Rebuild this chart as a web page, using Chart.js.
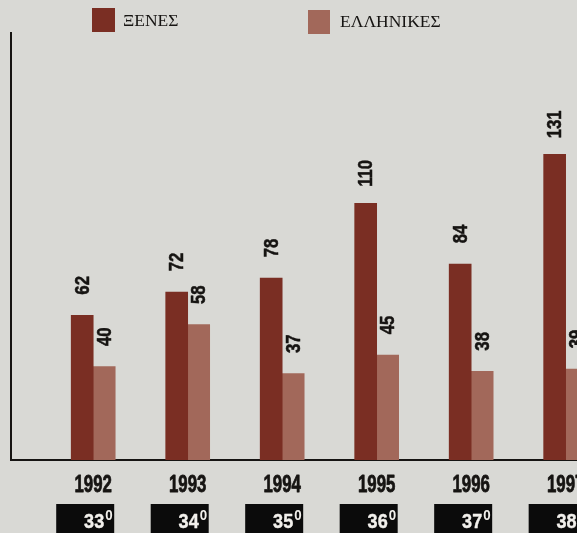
<!DOCTYPE html>
<html>
<head>
<meta charset="utf-8">
<script src="https://cdn.jsdelivr.net/npm/chart.js@4/dist/chart.umd.min.js"></script>
<style>
  html, body { margin: 0; padding: 0; background: #d9d9d5; }
  #wrap { width: 577px; height: 533px; position: relative; overflow: hidden; }
  canvas { display: block; }
</style>
</head>
<body>
<div id="wrap"><canvas id="chart" width="577" height="533"></canvas></div>
<script>
// Exhibition entries per year: foreign vs Greek
const years = [1992, 1993, 1994, 1995, 1996, 1997];
const xenes = [62, 72, 78, 110, 84, 131];
const ellinikes = [40, 58, 37, 45, 38, 39];
const editions = ['33', '34', '35', '36', '37', '38'];
const editionSup = '0';
const seriesNames = ['ΞΕΝΕΣ', 'ΕΛΛΗΝΙΚΕΣ'];

const SANS = '"Liberation Sans", Arial, sans-serif';
const SERIF = '"Liberation Serif", "DejaVu Serif", serif';
const INK = '#161412';
const PAPER = '#d9d9d5';
const DARK = '#7a2e23';
const LIGHT = '#a2685a';

// Draw text squeezed horizontally to imitate a condensed heavy face
function condensedText(ctx, text, x, y, squeeze, rotate, heavy) {
  ctx.save();
  ctx.translate(x, y);
  if (rotate) ctx.rotate(rotate);
  ctx.scale(squeeze, 1);
  ctx.fillText(text, 0, 0);
  if (heavy) {
    ctx.lineWidth = heavy;
    ctx.strokeStyle = ctx.fillStyle;
    ctx.lineJoin = 'round';
    ctx.strokeText(text, 0, 0);
  }
  ctx.restore();
}

// Paper background
const paperPlugin = {
  id: 'paper',
  beforeDraw(chart) {
    const ctx = chart.ctx;
    ctx.save();
    ctx.fillStyle = PAPER;
    ctx.fillRect(0, 0, chart.width, chart.height);
    ctx.restore();
  }
};

// Two-item legend across the top
const topLegend = {
  id: 'topLegend',
  afterDraw(chart) {
    const ctx = chart.ctx;
    const slots = [
      { box: [92, 8, 23, 24], textX: 123, textY: 21 },
      { box: [308, 10, 22, 24], textX: 340, textY: 22 }
    ];
    ctx.save();
    chart.data.datasets.forEach((ds, i) => {
      const s = slots[i];
      ctx.fillStyle = ds.backgroundColor;
      ctx.fillRect(s.box[0], s.box[1], s.box[2], s.box[3]);
      ctx.fillStyle = INK;
      ctx.font = '17.5px ' + SERIF;
      ctx.textAlign = 'left';
      ctx.textBaseline = 'middle';
      ctx.fillText(ds.label, s.textX, s.textY);
    });
    ctx.restore();
  }
};

// Vertical value labels above each bar
const valueLabels = {
  id: 'valueLabels',
  afterDatasetsDraw(chart) {
    const ctx = chart.ctx;
    ctx.save();
    ctx.fillStyle = INK;
    ctx.font = 'bold 19.5px ' + SANS;
    ctx.textAlign = 'center';
    ctx.textBaseline = 'middle';
    chart.data.datasets.forEach((ds, di) => {
      const meta = chart.getDatasetMeta(di);
      meta.data.forEach((bar, i) => {
        const v = ds.data[i].y;
        condensedText(ctx, String(v), bar.x + 1, bar.y - 30, 0.86, -Math.PI / 2, 0.5);
      });
    });
    ctx.restore();
  }
};

// Year labels under the axis
const yearLabels = {
  id: 'yearLabels',
  afterDraw(chart) {
    const ctx = chart.ctx;
    const xs = chart.scales.x;
    ctx.save();
    ctx.fillStyle = INK;
    ctx.font = 'bold 23px ' + SANS;
    ctx.textAlign = 'center';
    ctx.textBaseline = 'alphabetic';
    xs.ticks.forEach((t) => {
      if (!years.includes(t.value)) return;
      condensedText(ctx, String(t.value), xs.getPixelForValue(t.value), 492, 0.73, 0, 0.8);
    });
    ctx.restore();
  }
};

// Black edition tags under the year labels
const editionTags = {
  id: 'editionTags',
  afterDraw(chart) {
    const ctx = chart.ctx;
    const xs = chart.scales.x;
    ctx.save();
    years.forEach((yr, i) => {
      const px = xs.getPixelForValue(yr);
      ctx.fillStyle = '#0b0b0b';
      ctx.fillRect(px - 37, 504, 58, 40);
      ctx.fillStyle = '#f2f0ec';
      ctx.textBaseline = 'alphabetic';
      ctx.textAlign = 'right';
      ctx.font = 'bold 21px ' + SANS;
      condensedText(ctx, editions[i], px + 11, 528, 0.86, 0, 0.4);
      ctx.textAlign = 'left';
      ctx.font = 'bold 14px ' + SANS;
      condensedText(ctx, editionSup, px + 12, 520, 0.95);
    });
    ctx.restore();
  }
};

const toPoints = (vals) => vals.map((v, i) => ({ x: years[i], y: v }));

new Chart(document.getElementById('chart'), {
  type: 'bar',
  data: {
    datasets: [
      { label: seriesNames[0], data: toPoints(xenes), backgroundColor: DARK, barThickness: 22 },
      { label: seriesNames[1], data: toPoints(ellinikes), backgroundColor: LIGHT, barThickness: 22 }
    ]
  },
  options: {
    responsive: false,
    animation: false,
    layout: { padding: { top: 33, left: 0, right: 0, bottom: 0 } },
    plugins: {
      legend: { display: false },
      tooltip: { enabled: false }
    },
    scales: {
      x: {
        type: 'linear',
        min: 1991.13,
        max: 1997.12,
        offset: false,
        grid: { display: false, drawTicks: false },
        border: { display: true, color: INK, width: 2 },
        ticks: {
          stepSize: 1,
          includeBounds: false,
          autoSkip: false,
          maxRotation: 0,
          color: 'rgba(0,0,0,0)',
          callback: (v) => (years.includes(v) ? String(v) : '')
        },
        afterFit(s) { s.height = 73; s.paddingLeft = 0; s.paddingRight = 0; }
      },
      y: {
        min: 0,
        max: 183,
        grid: { display: false, drawTicks: false },
        border: { display: true, color: INK, width: 2 },
        ticks: { display: false },
        afterFit(s) { s.width = 11; }
      }
    }
  },
  plugins: [paperPlugin, valueLabels, topLegend, yearLabels, editionTags]
});
</script>
</body>
</html>
